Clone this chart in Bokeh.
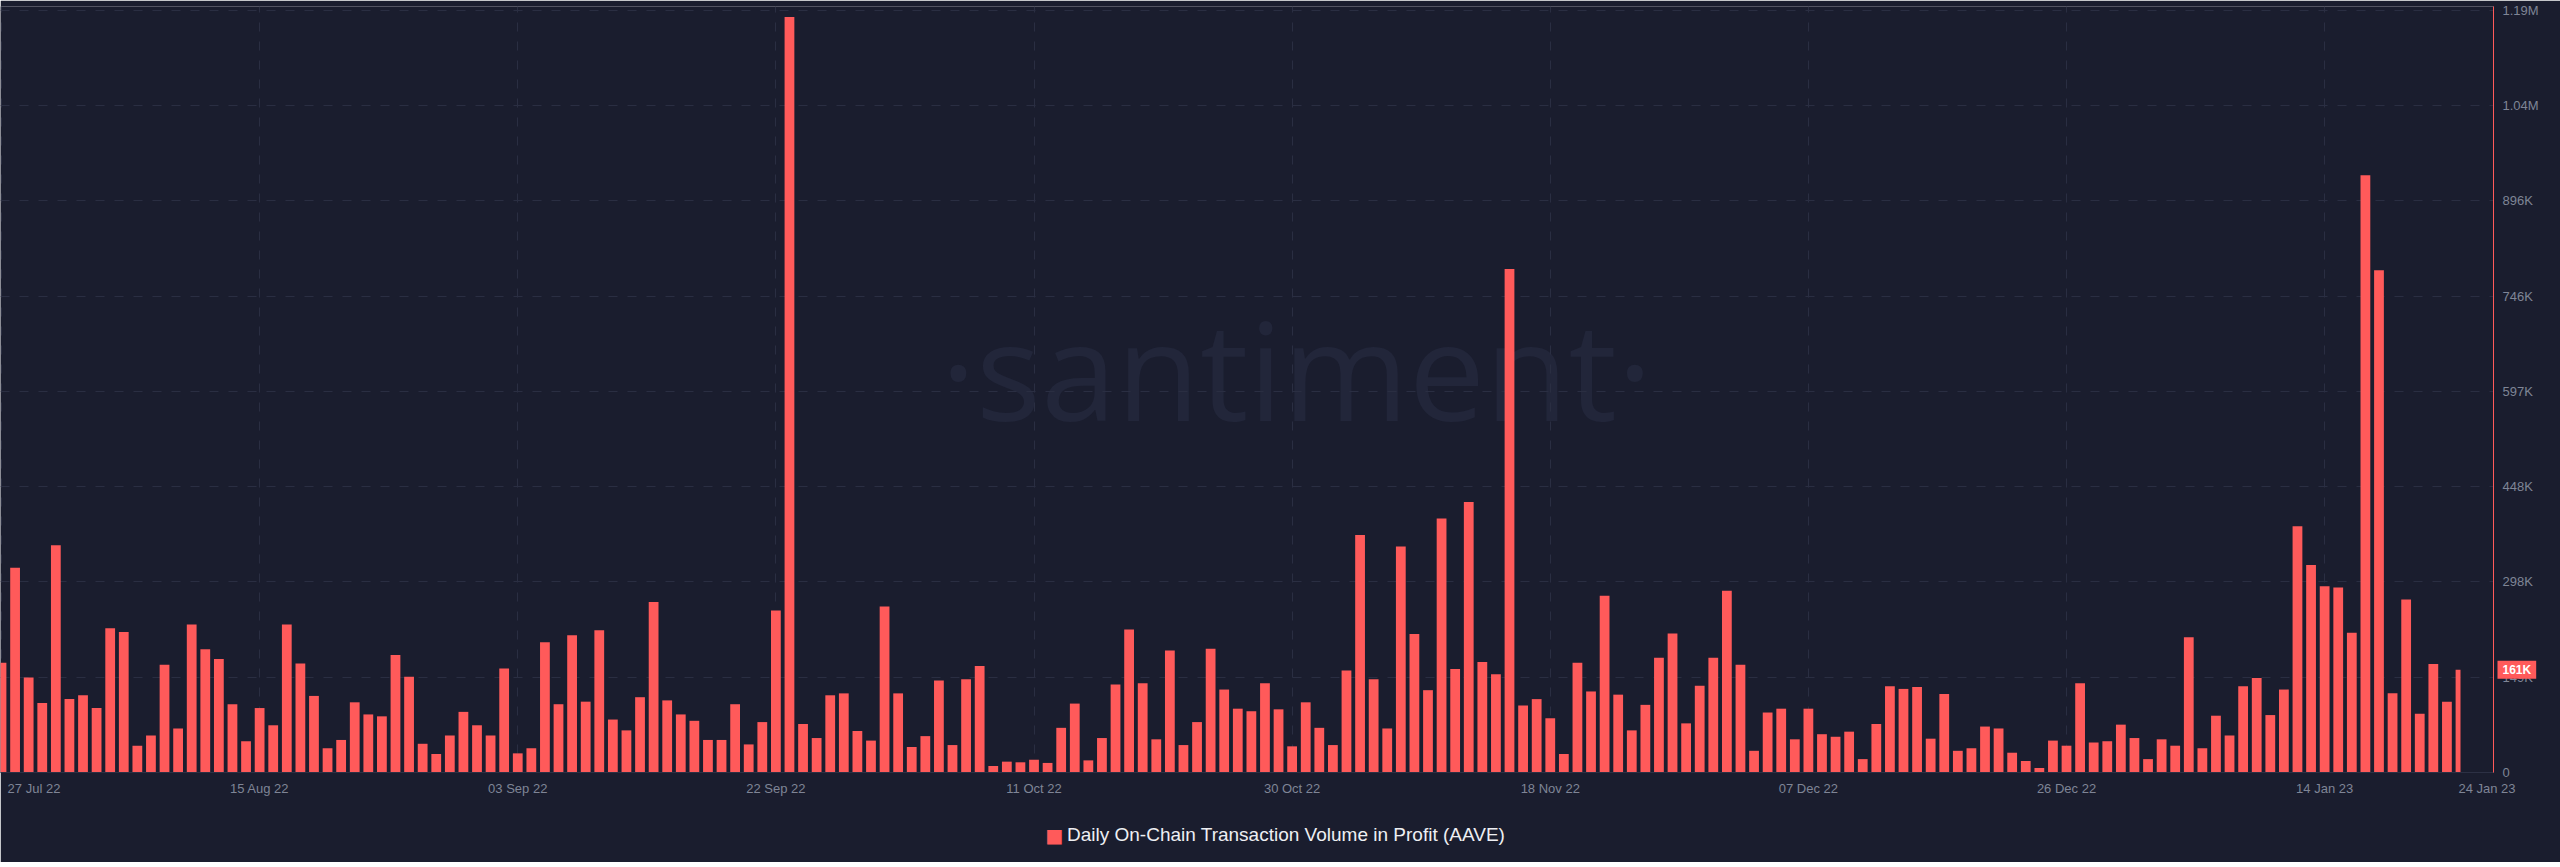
import numpy as np
import pandas as pd
from bokeh.plotting import figure
from bokeh.models import (ColumnDataSource, Range1d, FixedTicker, DatetimeTickFormatter, Label)
from bokeh.embed import file_html
from bokeh.resources import INLINE

# ---------------- data ----------------
start_date = "2022-07-27"
volume_k = [
    172, 321, 149, 109, 356, 115, 121, 101, 226, 220,
    42, 58, 169, 69, 232, 193, 178, 107, 49, 101,
    74, 232, 171, 120, 38, 51, 110, 91, 88, 184,
    150, 45, 29, 58, 95, 74, 58, 163, 30, 38,
    204, 107, 215, 111, 223, 83, 66, 118, 267, 113,
    91, 81, 51, 51, 107, 44, 79, 254, 1184, 76,
    54, 121, 124, 65, 50, 260, 124, 40, 57, 144,
    43, 146, 167, 10, 17, 16, 20, 15, 70, 108,
    19, 54, 138, 224, 140, 52, 191, 43, 79, 194,
    130, 100, 96, 140, 99, 41, 110, 70, 43, 160,
    372, 146, 69, 354, 217, 129, 398, 162, 424, 173,
    154, 789, 105, 115, 85, 29, 172, 127, 277, 122,
    66, 106, 180, 218, 77, 136, 180, 285, 169, 34,
    94, 100, 52, 100, 60, 56, 64, 21, 76, 135,
    131, 134, 53, 123, 34, 38, 72, 69, 31, 18,
    7, 50, 42, 140, 47, 49, 75, 54, 21, 52,
    42, 212, 38, 89, 58, 135, 148, 90, 130, 386,
    325, 292, 290, 219, 936, 787, 124, 271, 92, 170,
    111, 161,
]
x_tick_dates = ["2022-08-15", "2022-09-03", "2022-09-22", "2022-10-11", "2022-10-30",
                "2022-11-18", "2022-12-07", "2022-12-26", "2023-01-14"]
edge_labels = ["27 Jul 22", "24 Jan 23"]
y_ticks = [0, 149340, 298680, 448020, 597360, 746700, 896040, 1045380, 1194720]
y_tick_labels = ["0", "149K", "298K", "448K", "597K", "746K", "896K", "1.04M", "1.19M"]
last_value_label = "161K"
series_name = "Daily On-Chain Transaction Volume in Profit (AAVE)"
watermark = "\u00b7santiment\u00b7"

# ---------------- style ----------------
BG = "#1a1d2e"
RED = "#ff5a5a"
GRID = "#2a2e42"
TICK_TXT = "#7f8596"
LEG_TXT = "#eeeff3"
WM = "#22263a"
FONT = "Liberation Sans"

FRAME_W = 2493
FRAME_TOP = 6
FRAME_BOTTOM = 772
FRAME_H = FRAME_BOTTOM - FRAME_TOP
TOP_TICK_Y = 9.6
PX_PER_DAY = 2459.0 / 181.0
DAY = 86400000.0

dates = pd.date_range(start_date, periods=len(volume_k), freq="D")
xs = dates.values.astype("datetime64[ms]").astype("int64").astype(float)
vals = np.array(volume_k, dtype=float) * 1000.0
half = 0.36 * DAY
src = ColumnDataSource(dict(
    left=xs - half,
    right=np.minimum(xs + half, xs[-1]),
    top=vals,
    bottom=np.zeros_like(vals),
))

x_start = xs[0] - DAY / PX_PER_DAY
x_end = x_start + FRAME_W / PX_PER_DAY * DAY
px_per_unit = (FRAME_BOTTOM - TOP_TICK_Y) / y_ticks[-1]
y_end = FRAME_H / px_per_unit

def x_at(px):
    return x_start + px / PX_PER_DAY * DAY

def y_at(py):
    return (FRAME_BOTTOM - py) / px_per_unit

p = figure(frame_width=FRAME_W, frame_height=FRAME_H,
           x_range=Range1d(x_start, x_end), y_range=Range1d(0, y_end),
           x_axis_type="datetime", y_axis_location="right",
           output_backend="svg", toolbar_location=None,
           min_border_left=0, min_border_top=FRAME_TOP, min_border_right=2560 - FRAME_W,
           min_border_bottom=90,
           background_fill_color=BG, border_fill_color=BG, outline_line_color=None)

r = p.quad(left="left", right="right", top="top", bottom="bottom", source=src,
           fill_color=RED, line_color=None)

# x axis: interior dates + edge labels shifted to sit inside the chart like the original
tick_ms = [int(pd.Timestamp(d).value // 10**6) for d in x_tick_dates]
edge_ms = [int(round(x_at(33.5))), int(round(x_at(2486.5)))]
p.xaxis.ticker = FixedTicker(ticks=[edge_ms[0]] + tick_ms + [edge_ms[1]])
p.xaxis.major_label_overrides = {edge_ms[0]: edge_labels[0], edge_ms[1]: edge_labels[1]}
fmt = "%d %b %y"
p.xaxis.formatter = DatetimeTickFormatter(days=fmt, months=fmt, years=fmt, hours=fmt,
                                          hourmin=fmt, minutes=fmt, minsec=fmt,
                                          seconds=fmt, milliseconds=fmt, microseconds=fmt)
p.xaxis.axis_line_color = "#2c3044"
p.xaxis.major_tick_line_color = None
p.xaxis.minor_tick_line_color = None
p.xaxis.major_tick_out = 0
p.xaxis.minor_tick_out = 0
p.xaxis.major_tick_in = 0
p.xaxis.major_label_standoff = 8
p.xaxis.major_label_text_color = TICK_TXT
p.xaxis.major_label_text_font = FONT
p.xaxis.major_label_text_font_size = "13px"

# y axis (right)
p.yaxis.ticker = FixedTicker(ticks=y_ticks)
p.yaxis.major_label_overrides = {t: l for t, l in zip(y_ticks, y_tick_labels)}
p.yaxis.axis_line_color = RED
p.yaxis.axis_line_width = 1
p.yaxis.major_tick_line_color = None
p.yaxis.minor_tick_line_color = None
p.yaxis.major_tick_out = 0
p.yaxis.minor_tick_out = 0
p.yaxis.major_tick_in = 0
p.yaxis.major_label_standoff = 9
p.yaxis.major_label_text_color = TICK_TXT
p.yaxis.major_label_text_font = FONT
p.yaxis.major_label_text_font_size = "13px"

# grids (vertical lines at every 19-day date, including the first day)
p.xgrid.ticker = FixedTicker(ticks=[int(xs[0])] + tick_ms)
for g in (p.xgrid, p.ygrid):
    g.grid_line_color = GRID
    g.grid_line_dash = "9 10"
    g.grid_line_width = 1

# watermark
p.add_layout(Label(x=x_at(1296), y=y_at(368), text=watermark, text_align="center",
                   text_baseline="middle", text_font="Open Sans",
                   text_font_size="136px", text_color=WM, level="image"))

# last value badge (in right panel so it is not clipped by the frame)
badge = Label(x=x_end, y=vals[-1], text=last_value_label, x_offset=4,
              text_align="left", text_baseline="middle", text_font=FONT,
              text_font_size="12px", text_font_style="bold", text_color="#ffffff",
              background_fill_color=RED, padding=(5, 2))
p.add_layout(badge, "right")

# legend below the axis: swatch + series name
p.add_layout(Label(x=x_at(1054), y=y_at(834), text="\u25a0", text_align="center",
                   text_baseline="middle", text_font="DejaVu Sans",
                   text_font_size="19px", text_color=RED), "below")
p.add_layout(Label(x=x_at(1066.5), y=y_at(834), text=series_name, text_align="left",
                   text_baseline="middle", text_font=FONT,
                   text_font_size="19px", text_color=LEG_TXT), "below")

open("out.html", "w").write(file_html(p, INLINE))
